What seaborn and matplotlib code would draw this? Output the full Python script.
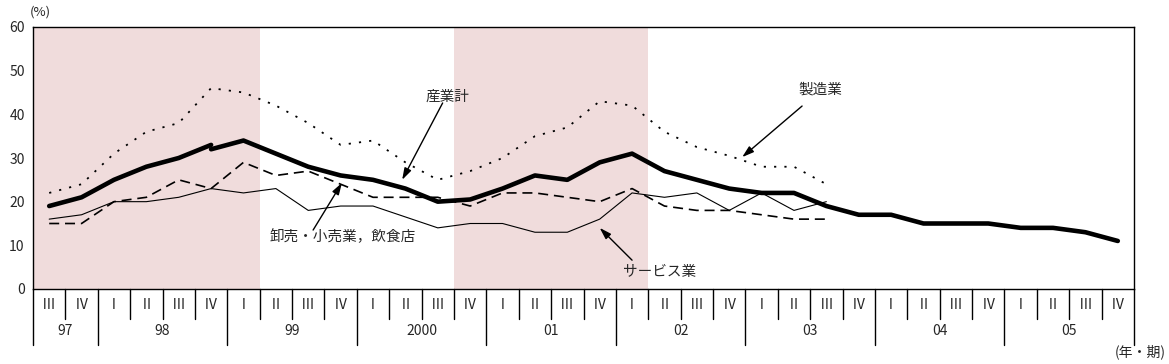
import numpy as np
import pandas as pd
import matplotlib
matplotlib.use("Agg")
import matplotlib.pyplot as plt
import seaborn as sns

sns.set_style("white")
plt.rcParams['font.family'] = ['Noto Sans CJK JP', 'DejaVu Sans']

# quarters 97 III .. 05 IV
quarter_labels = ['Ⅲ', 'Ⅳ'] + ['Ⅰ', 'Ⅱ', 'Ⅲ', 'Ⅳ'] * 8
year_labels = ['97', '98', '99', '2000', '01', '02', '03', '04', '05']
year_sizes = [2, 4, 4, 4, 4, 4, 4, 4, 4]

# 産業計 (series break at 98 IV)
total_old = [19, 21, 25, 28, 30, 33]
total_new = [32, 34, 31, 28, 26, 25, 23, 20, 20.5, 23, 26, 25, 29, 31, 27,
             25, 23, 22, 22, 19, 17, 17, 15, 15, 15, 14, 14, 13, 11]
# 製造業
manuf = [22, 24, 31, 36, 38, 46, 45, 42, 38, 33, 34, 29, 25, 27, 30, 35, 37,
         43, 42, 36, 32.5, 30.5, 28, 28, 24]
# 卸売・小売業，飲食店
trade = [15, 15, 20, 21, 25, 23, 29, 26, 27, 24, 21, 21, 21, 19, 22, 22, 21,
         20, 23, 19, 18, 18, 17, 16, 16]
# サービス業
service = [16, 17, 20, 20, 21, 23, 22, 23, 18, 19, 19, 16.5, 14, 15, 15, 13,
           13, 16, 22, 21, 22, 18, 22, 18, 20]

# recession shading (quarter index ranges)
shade_spans = [(0, 6), (13, 18)]

n_q = len(quarter_labels)

fig = plt.figure(figsize=(11.69, 3.64), dpi=100)
ax = fig.add_axes([33 / 1169, 1 - 289 / 364, (1134 - 33) / 1169, 262 / 364])

# red stipple in the original -> light pink-grey tone
for a, b in shade_spans:
    ax.axvspan(a - 0.5, b + 0.5, facecolor='#f0dcdc', linewidth=0, zorder=0)

df_m = pd.DataFrame({'q': np.arange(len(manuf)), 'v': manuf})
df_t = pd.DataFrame({'q': np.arange(len(trade)), 'v': trade})
df_s = pd.DataFrame({'q': np.arange(len(service)), 'v': service})
df_a = pd.DataFrame({'q': np.arange(len(total_old)), 'v': total_old})
df_b = pd.DataFrame({'q': np.arange(len(total_new)) + 5, 'v': total_new})

sns.lineplot(data=df_s, x='q', y='v', ax=ax, color='black', lw=0.8)
sns.lineplot(data=df_t, x='q', y='v', ax=ax, color='black', lw=1.2).lines[-1].set_dashes([6, 3.5])
sns.lineplot(data=df_m, x='q', y='v', ax=ax, color='black', lw=1.3).lines[-1].set_dashes([1.2, 4.5])
sns.lineplot(data=df_a, x='q', y='v', ax=ax, color='black', lw=3.3)
sns.lineplot(data=df_b, x='q', y='v', ax=ax, color='black', lw=3.3)

ax.set_xlim(-0.5, n_q - 0.5)
ax.set_ylim(0, 60)
ax.set_yticks(range(0, 61, 10))
ax.set_xticks([])
ax.set_xlabel('')
ax.set_ylabel('')
ax.tick_params(axis='y', direction='in', length=3, labelsize=10, pad=6)
for s in ax.spines.values():
    s.set_color('black')
    s.set_linewidth(1.0)

# category table below the axis
trans = ax.get_xaxis_transform()
year_edges = np.cumsum([0] + year_sizes) - 0.5
for k in range(n_q + 1):
    xb = k - 0.5
    bottom = -0.215 if xb in year_edges else -0.115
    ax.plot([xb, xb], [0, bottom], transform=trans, color='black', lw=1.0,
            clip_on=False)
for k, lab in enumerate(quarter_labels):
    ax.text(k, -0.062, lab, transform=trans, ha='center', va='center',
            fontsize=10)
for k, lab in enumerate(year_labels):
    mid = (year_edges[k] + year_edges[k + 1]) / 2
    ax.text(mid, -0.16, lab, transform=trans, ha='center', va='center',
            fontsize=10)

fig.text(40 / 1169, 1 - 12 / 364, '(%)', ha='center', va='center', fontsize=9.5)
fig.text(1140 / 1169, 1 - 352 / 364, '(年・期)', ha='center', va='center',
         fontsize=10)

# labels with arrows
arrow = dict(arrowstyle='-|>,head_length=0.7,head_width=0.22', color='black',
             lw=1.0, shrinkA=0, shrinkB=0)
fs = 10.5
ax.text(12.3, 44.0, '産業計', ha='center', va='center', fontsize=fs)
ax.annotate('', xy=(10.9, 25.0), xytext=(12.15, 42.6), arrowprops=arrow)
ax.text(23.8, 45.6, '製造業', ha='center', va='center', fontsize=fs)
ax.annotate('', xy=(21.4, 30.2), xytext=(23.25, 41.9), arrowprops=arrow)
ax.text(9.07, 11.9, '卸売・小売業，飲食店', ha='center', va='center', fontsize=fs)
ax.annotate('', xy=(9.04, 24.3), xytext=(8.15, 13.5), arrowprops=arrow)
ax.text(18.86, 3.9, 'サービス業', ha='center', va='center', fontsize=fs)
ax.annotate('', xy=(17.0, 14.0), xytext=(18.0, 6.6), arrowprops=arrow)

fig.savefig('out.png', dpi=100)
